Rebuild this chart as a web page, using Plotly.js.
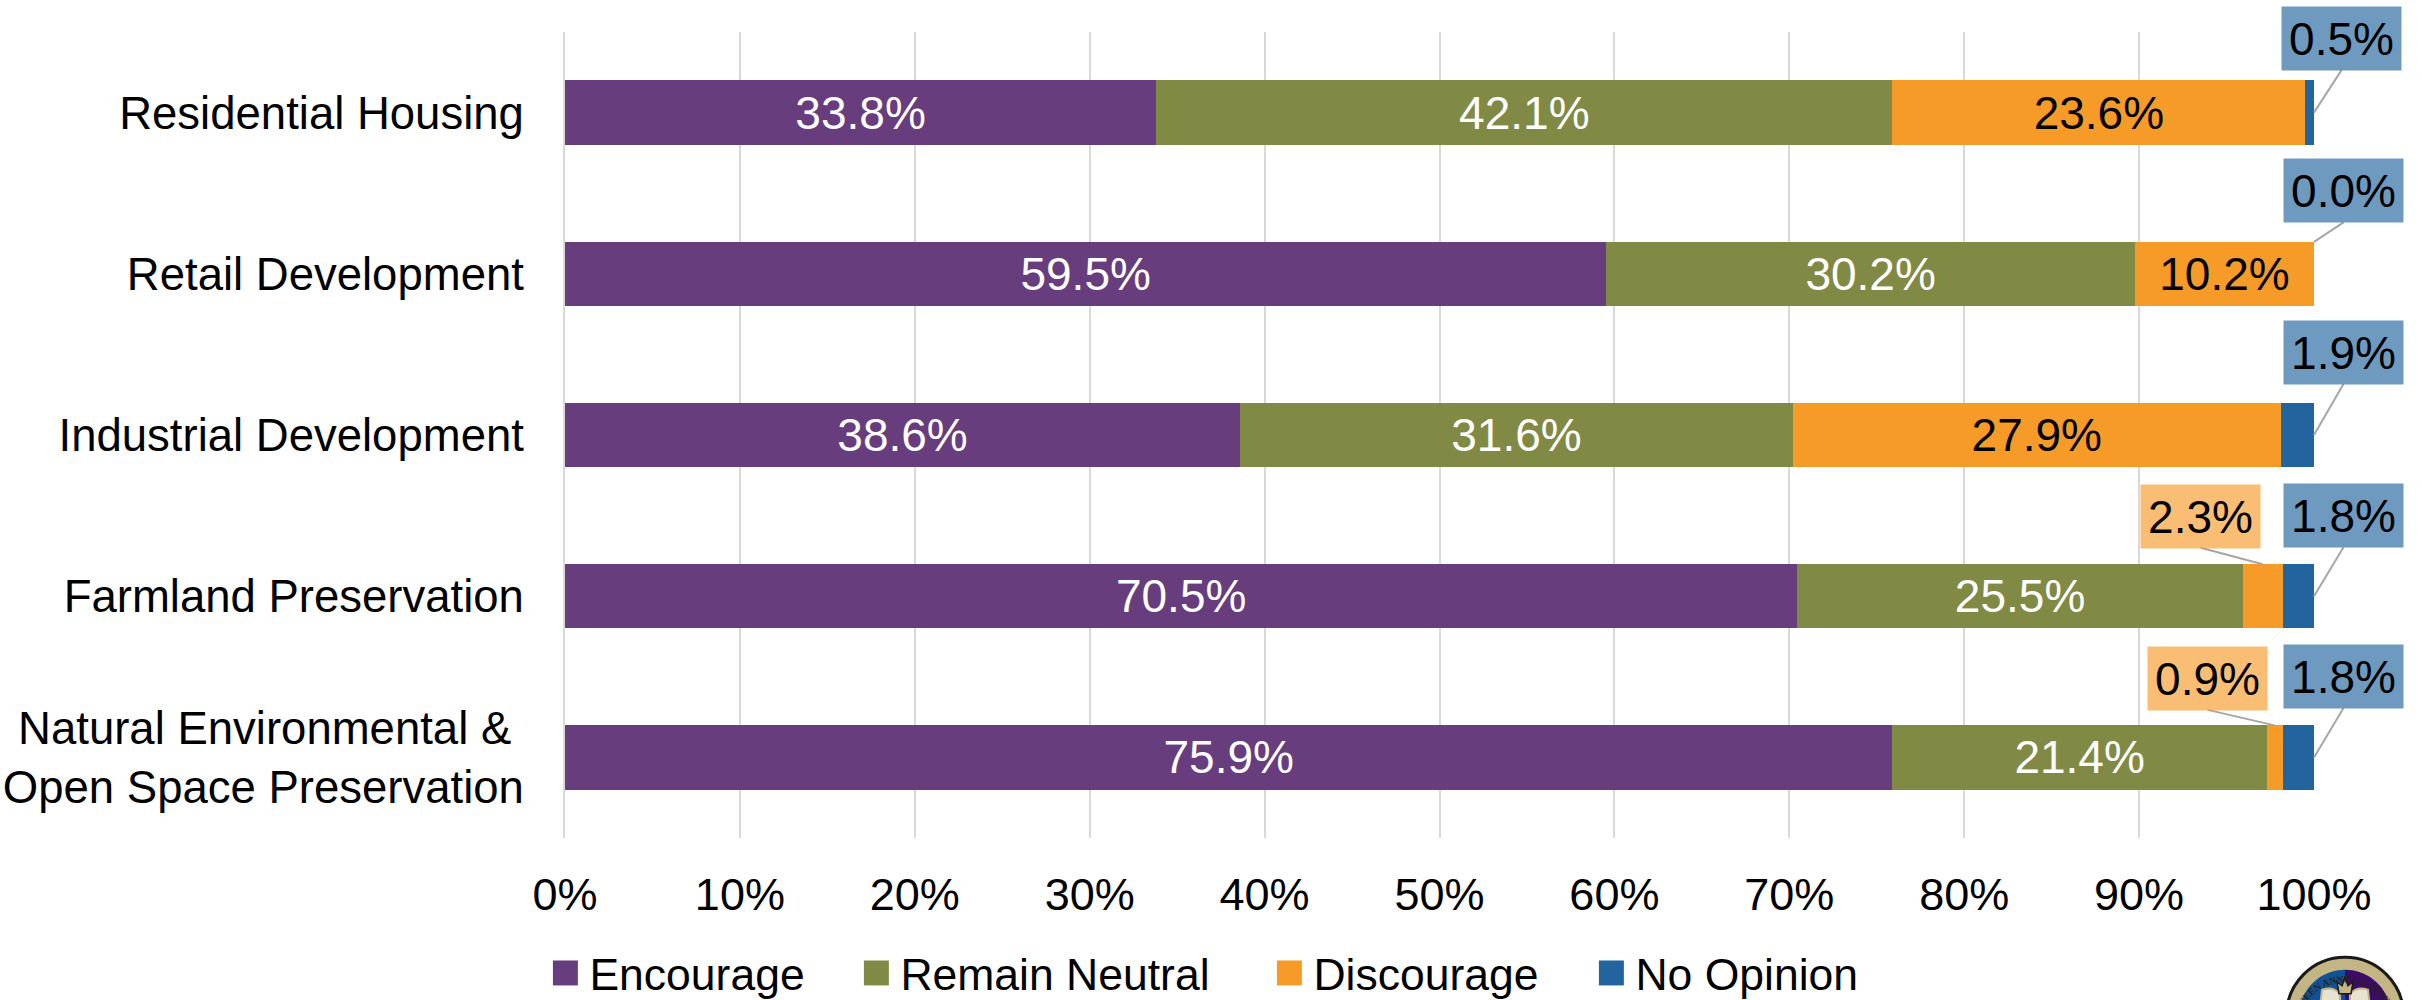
<!DOCTYPE html>
<html><head><meta charset="utf-8">
<script src="https://cdn.plot.ly/plotly-3.0.1.min.js"></script>
<style>html,body{margin:0;padding:0;background:#fff}#c{width:2422px;height:1000px}</style>
</head><body><div id="c"></div>
<script>
const categories = ["Residential Housing","Retail Development","Industrial Development","Farmland Preservation","Natural Environmental &\u00a0<br>Open Space Preservation"];
const encourage = [33.8,59.54,38.6,70.46,75.9];
const neutral = [42.1,30.22,31.6,25.47,21.4];
const discourage = [23.6,10.24,27.9,2.27,0.9];
const noOpinion = [0.5,0,1.9,1.8,1.8];
const seriesNames = ["Encourage","Remain Neutral","Discourage","No Opinion"];
const seriesColors = ["#673d7d","#818a45","#f69b28","#22649e"];
const textColors = ["#ffffff","#ffffff","#000000","#000000"];
const xTicks = [0,10,20,30,40,50,60,70,80,90,100];
const FONT = "Liberation Sans, Arial, sans-serif";
const FS = 46;

const values = [encourage,neutral,discourage,noOpinion];
const outsideSeries = [[],[],[3,4],[0,1,2,3,4]];
const traces = values.map((v,i)=>({
  type:"bar",orientation:"h",name:seriesNames[i],y:categories,x:v,
  marker:{color:seriesColors[i],line:{width:0}},
  text:v.map((d,k)=>outsideSeries[i].includes(k)?"":d.toFixed(1)+"%"),
  textposition:"inside",insidetextanchor:"middle",constraintext:"none",
  textangle:0,
  textfont:{family:FONT,size:FS,color:textColors[i]},
  hoverinfo:"skip"
}));

// callouts: series, category, box offset from anchor (px), leader end offset from anchor (px)
const callouts = [
 {s:3,c:0,dx:27.5,dy:-74,ly:0},
 {s:3,c:1,dx:29.5,dy:-83,ly:-32},
 {s:3,c:2,dx:29.5,dy:-82.5,ly:0},
 {s:3,c:3,dx:29.5,dy:-80.5,ly:0},
 {s:3,c:4,dx:29.5,dy:-81,ly:0},
 {s:2,c:3,dx:-62,dy:-80,ly:-32},
 {s:2,c:4,dx:-67,dy:-79,ly:-32}
];
const boxColors = {2:"rgba(246,155,40,0.65)",3:"rgba(34,100,158,0.65)"};
const annotations=[],shapes=[];
callouts.forEach(o=>{
  const val = values[o.s][o.c];
  const x = o.s===3 ? 100 : encourage[o.c]+neutral[o.c]+discourage[o.c]/2;
  annotations.push({xref:"x",yref:"y",x:x,y:categories[o.c],xanchor:"center",yanchor:"middle",
    xshift:o.dx,yshift:-o.dy,text:val.toFixed(1)+"%",showarrow:false,
    bgcolor:boxColors[o.s],borderpad:0,width:119,height:63,
    font:{family:FONT,size:FS,color:"#000"}});
  shapes.push({type:"line",xref:"paper",yref:"y",xsizemode:"pixel",ysizemode:"pixel",
    xanchor:x/100,yanchor:categories[o.c],x0:o.dx,x1:0,y0:-(o.dy+31.5),y1:-o.ly,
    line:{color:"#a6a6a6",width:2},layer:"above"});
});

// county seal, bottom right, cut off by the page edge
const sealX = 1.01773, sealY = -0.2205;
const seal = (type,extra)=>Object.assign({type:type,xref:"paper",yref:"paper",xsizemode:"pixel",ysizemode:"pixel",
  xanchor:sealX,yanchor:sealY,layer:"above",line:{width:0}},extra);
const disc = (r,fill,line)=>seal("circle",{x0:-r,x1:r,y0:-r,y1:r,fillcolor:fill,line:line||{width:0}});
shapes.push(disc(58.5,"#c4b585",{color:"#1a1a1a",width:3}));
shapes.push(seal("path",{path:"M0,46 C25.4,46 46,25.4 46,0 C46,-25.4 25.4,-46 0,-46 Z",fillcolor:"#3c0a68"}));
shapes.push(seal("path",{path:"M0,46 C-25.4,46 -46,25.4 -46,0 C-46,-25.4 -25.4,-46 0,-46 Z",fillcolor:"#0f5299"}));
shapes.push(seal("path",{path:"M-23,26 Q-12,30 -5,22 L-5,10 L5,10 L5,22 Q12,30 23,26 L26,0 L-26,0 Z",fillcolor:"#e8e2d0",line:{color:"#c4b585",width:2}}));
shapes.push(seal("path",{path:"M-6,22 L-8,34 L-3,30 L0,38 L3,30 L8,34 L6,22 Z",fillcolor:"#c4b585",line:{color:"#1a1a1a",width:1.5}}));

const layout = {
  width:2422,height:1000,paper_bgcolor:"#fff",plot_bgcolor:"#fff",
  margin:{l:565,r:108,t:32,b:162,pad:0,autoexpand:false},
  barmode:"stack",bargap:0.6,
  font:{family:FONT,size:FS,color:"#000"},
  xaxis:{range:[0,100],tickvals:xTicks,ticktext:xTicks.map(t=>t+"%"),showgrid:true,gridcolor:"#d9d9d9",gridwidth:2,
    zeroline:false,showline:false,ticks:"",tickfont:{family:FONT,size:45},ticklabelstandoff:26,automargin:false},
  yaxis:{type:"category",categoryorder:"array",categoryarray:categories,autorange:false,range:[4.5,-0.5],showgrid:false,zeroline:false,
    showline:true,linecolor:"#d9d9d9",linewidth:2,ticks:"",tickfont:{family:FONT,size:45.5},ticklabelstandoff:30,automargin:false},
  legend:{orientation:"h",x:-0.0135,xanchor:"left",y:-0.1235,yanchor:"top",traceorder:"normal",itemwidth:38,
    entrywidth:310,entrywidthmode:"pixels",
    font:{family:FONT,size:44.5,color:"#000"},bgcolor:"rgba(0,0,0,0)"},
  annotations:annotations,shapes:shapes,showlegend:true
};
const legendShift = [0,-52,-2,-43];
const sealText = "QUEEN ANNE\u2019S COUNTY";
Plotly.newPlot("c",traces,layout,{displayModeBar:false,responsive:false}).then(()=>{
  document.querySelectorAll(".legend .legendpoints path").forEach(p=>{
    const t=p.getAttribute("transform")||"";
    p.setAttribute("transform",t+" scale(2.08)");
  });
  document.querySelectorAll(".legend .scrollbox").forEach(s=>s.removeAttribute("clip-path"));
  document.querySelectorAll(".legend .traces").forEach((g,i)=>{
    const m=/translate\(([-\d.]+)[ ,]*([-\d.]*)\)/.exec(g.getAttribute("transform")||"");
    if(m) g.setAttribute("transform","translate("+(parseFloat(m[1])+legendShift[i])+","+(parseFloat(m[2])||0)+")");
  });
  // curved lettering of the seal ring
  const NS="http://www.w3.org/2000/svg";
  const svgs=document.querySelectorAll("#c svg.main-svg");
  const svg=svgs[svgs.length-1];
  const path=document.createElementNS(NS,"path");
  path.setAttribute("id","sealArc");
  path.setAttribute("d","M2297,1024 A48.5,48.5 0 0 1 2393,1024");
  path.setAttribute("fill","none");
  svg.appendChild(path);
  const t=document.createElementNS(NS,"text");
  t.setAttribute("font-family","Liberation Serif, serif");
  t.setAttribute("font-size","9.6");
  t.setAttribute("font-weight","bold");
  t.setAttribute("fill","#2a2412");
  t.setAttribute("text-anchor","middle");
  const tp=document.createElementNS(NS,"textPath");
  tp.setAttribute("href","#sealArc");
  tp.setAttribute("startOffset","50%");
  tp.textContent=sealText;
  t.appendChild(tp);
  svg.appendChild(t);
});
</script></body></html>
